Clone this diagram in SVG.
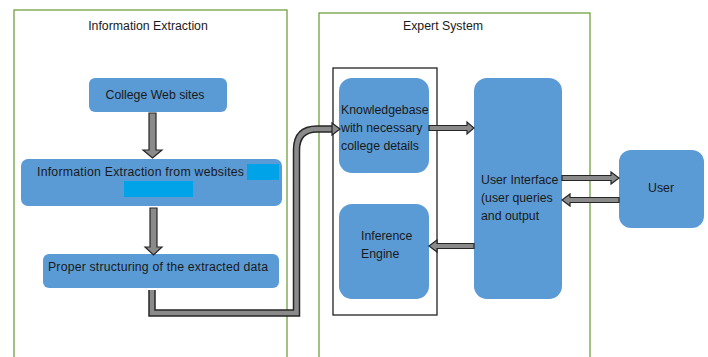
<svg xmlns="http://www.w3.org/2000/svg" width="708" height="357" viewBox="0 0 708 357">
<style>
.frame{fill:none;stroke:#70a040;stroke-width:1.3}
.node{fill:#5b9bd5}
.t{font-family:"Liberation Sans",Arial,sans-serif;font-size:12.3px;fill:#1a1a1a}
.blk{fill:#8a8a8a;stroke:#262626;stroke-width:1.2;stroke-linejoin:miter}
.wire-o{fill:none;stroke:#262626;stroke-width:7.5}
.wire-i{fill:none;stroke:#8a8a8a;stroke-width:4.5}
</style>
<rect width="708" height="357" fill="#fff"/>
<g id="info-extraction-frame">
<rect class="frame" x="14" y="10" width="273" height="360"/>
<text class="t" x="148" y="30" text-anchor="middle">Information Extraction</text>
</g>
<g id="expert-system-frame">
<rect class="frame" x="319" y="13" width="271" height="360"/>
<text class="t" x="443" y="30" text-anchor="middle">Expert System</text>
</g>
<g id="kb-ie-container">
<rect x="333" y="68" width="104" height="247" fill="none" stroke="#222" stroke-width="1.3"/>
</g>
<g id="college-web-sites">
<rect class="node" x="89" y="78" width="138" height="34" rx="6"/>
<text class="t" x="155" y="99" text-anchor="middle">College Web sites</text>
</g>
<g id="info-extraction-websites">
<rect class="node" x="21" y="159" width="261" height="47" rx="7"/>
<rect x="247" y="164" width="32" height="16" fill="#00a2e8"/>
<rect x="124" y="181" width="69" height="16" fill="#00a2e8"/>
<text class="t" x="37" y="176" textLength="207" lengthAdjust="spacing">Information Extraction from websites</text>
</g>
<g id="proper-structuring">
<rect class="node" x="43" y="254" width="236" height="34" rx="6"/>
<text class="t" x="48" y="271" textLength="220" lengthAdjust="spacing">Proper structuring of the extracted data</text>
</g>
<g id="knowledgebase">
<rect class="node" x="339" y="78" width="90" height="95" rx="13"/>
<text class="t" x="341" y="114">Knowledgebase</text>
<text class="t" x="341" y="132">with necessary</text>
<text class="t" x="341" y="150">college details</text>
</g>
<g id="inference-engine">
<rect class="node" x="339" y="204" width="90" height="95" rx="13"/>
<text class="t" x="361" y="240">Inference</text>
<text class="t" x="361" y="258">Engine</text>
</g>
<g id="user-interface">
<rect class="node" x="474" y="78" width="88" height="221" rx="13"/>
<text class="t" x="481" y="184">User Interface</text>
<text class="t" x="481" y="202">(user queries</text>
<text class="t" x="481" y="220">and output</text>
</g>
<g id="user">
<rect class="node" x="619" y="150" width="85" height="78" rx="12"/>
<text class="t" x="661" y="192" text-anchor="middle">User</text>
</g>
<g id="connectors">
<polygon class="blk" points="149,113 156,113 156,150 162,150 152.5,158 143,150 149,150"/>
<polygon class="blk" points="150,208 157,208 157,247 162,247 153.5,255 145,247 150,247"/>
<path class="wire-o" d="M152,290 V313 H296.5 V150 Q296.5,129 317,129 H333"/>
<path class="wire-i" d="M152,290 V313 H296.5 V150 Q296.5,129 317,129 H334"/>
<polygon class="blk" points="332,123 340,129 332,135"/>
<polygon class="blk" points="429,125.5 467,125.5 467,122 474,128 467,134 467,130.5 429,130.5"/>
<polygon class="blk" points="474,243.5 437,243.5 437,240 429,246 437,252 437,248.5 474,248.5"/>
<polygon class="blk" points="562,175.5 611,175.5 611,172 619,178 611,184 611,180.5 562,180.5"/>
<polygon class="blk" points="619,197.5 570,197.5 570,194 562,200 570,206 570,202.5 619,202.5"/>
</g>
</svg>
